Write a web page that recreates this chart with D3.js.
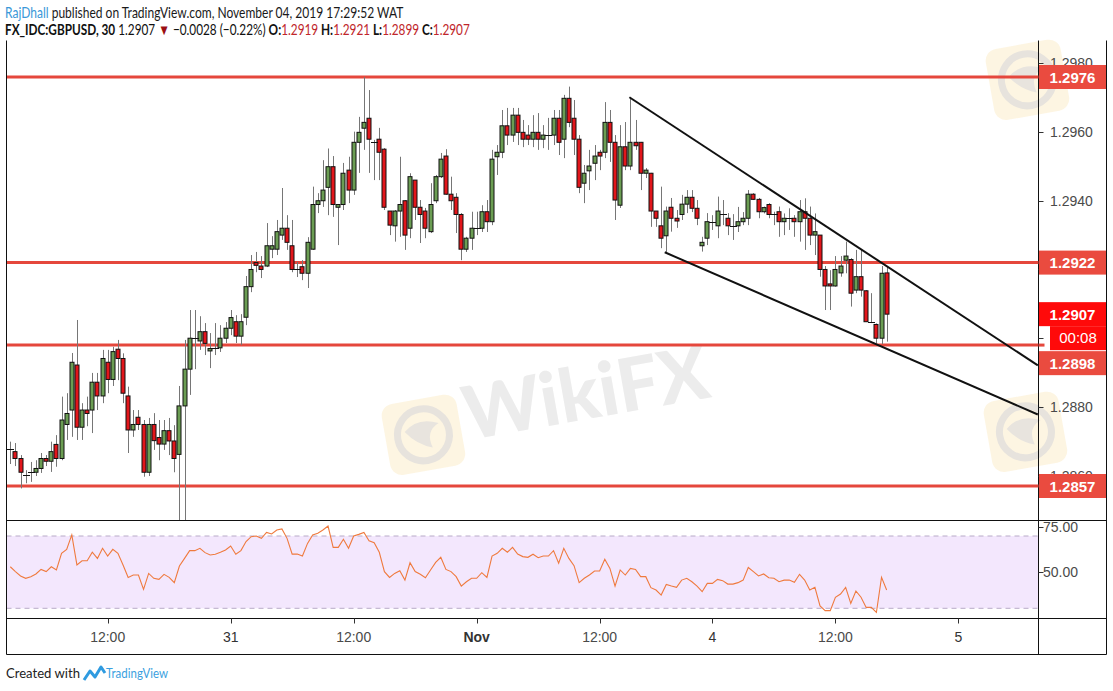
<!DOCTYPE html>
<html><head><meta charset="utf-8">
<script src="https://cdn.jsdelivr.net/npm/d3@7"></script>
<style>body{margin:0;background:#fff;} svg{display:block;}</style>
</head><body><svg id="c" width="1113" height="691"></svg>
<script>
// ---------- DATA ----------
const opens=[1.28679,1.28670,1.28650,1.28602,1.28610,1.28610,1.28621,1.28650,1.28642,1.28691,
1.28650,1.28749,1.28791,1.28922,1.28741,1.28791,1.28791,1.28872,1.28832,1.28930,
1.28880,1.28968,1.28941,1.28832,1.28733,1.28770,1.28749,1.28610,1.28749,1.28711,
1.28692,1.28731,1.28701,1.28662,1.28803,1.28910,1.29000,1.28992,1.29019,1.28963,
1.28972,1.28972,1.29000,1.29029,1.29048,1.29006,1.29061,1.29150,1.29220,1.29210,
1.29210,1.29259,1.29259,1.29300,1.29320,1.29269,1.29200,1.29208,1.29189,1.29259,
1.29389,1.29400,1.29439,1.29499,1.29381,1.29389,1.29489,1.29431,1.29570,1.29611,
1.29640,1.29570,1.29579,1.29550,1.29370,1.29327,1.29370,1.29400,1.29320,1.29460,
1.29381,1.29370,1.29310,1.29400,1.29470,1.29530,1.29419,1.29410,1.29360,1.29259,
1.29291,1.29320,1.29320,1.29368,1.29339,1.29528,1.29541,1.29618,1.29591,1.29649,
1.29599,1.29591,1.29579,1.29599,1.29579,1.29591,1.29591,1.29640,1.29579,1.29698,
1.29640,1.29579,1.29451,1.29487,1.29509,1.29541,1.29541,1.29628,1.29570,1.29387,
1.29557,1.29501,1.29570,1.29570,1.29480,1.29480,1.29370,1.29327,1.29298,1.29381,
1.29349,1.29360,1.29390,1.29410,1.29378,1.29269,1.29291,1.29338,1.29327,1.29360,
1.29349,1.29327,1.29327,1.29339,1.29349,1.29419,1.29404,1.29368,1.29389,1.29360,
1.29368,1.29339,1.29349,1.29349,1.29339,1.29368,1.29349,1.29300,1.29300,1.29200,
1.29158,1.29152,1.29190,1.29227,1.29229,1.29140,1.29179,1.29138,1.29048,1.29040,
1.29000,1.29190];
const highs=[1.28699,1.28695,1.28660,1.28616,1.28640,1.28645,1.28666,1.28660,1.28699,1.28718,
1.28830,1.28840,1.28957,1.29053,1.28811,1.28830,1.28899,1.28899,1.28966,1.28966,
1.28975,1.28995,1.28956,1.28859,1.28791,1.28791,1.28762,1.28768,1.28782,1.28762,
1.28762,1.28768,1.28747,1.28861,1.28995,1.29082,1.29082,1.29064,1.29044,1.29015,
1.29044,1.29038,1.29047,1.29082,1.29067,1.29070,1.29181,1.29242,1.29251,1.29239,
1.29335,1.29297,1.29344,1.29437,1.29358,1.29344,1.29222,1.29227,1.29294,1.29441,
1.29422,1.29518,1.29552,1.29530,1.29390,1.29510,1.29528,1.29601,1.29644,1.29760,
1.29722,1.29577,1.29612,1.29553,1.29370,1.29373,1.29528,1.29402,1.29480,1.29460,
1.29402,1.29379,1.29451,1.29475,1.29539,1.29550,1.29470,1.29422,1.29364,1.29295,
1.29368,1.29368,1.29387,1.29402,1.29548,1.29562,1.29664,1.29670,1.29670,1.29670,
1.29635,1.29620,1.29649,1.29655,1.29620,1.29641,1.29664,1.29664,1.29708,1.29732,
1.29693,1.29591,1.29504,1.29548,1.29562,1.29548,1.29687,1.29664,1.29591,1.29620,
1.29629,1.29701,1.29635,1.29571,1.29495,1.29481,1.29370,1.29441,1.29383,1.29408,
1.29373,1.29417,1.29431,1.29431,1.29402,1.29295,1.29364,1.29358,1.29412,1.29402,
1.29364,1.29361,1.29382,1.29367,1.29431,1.29422,1.29408,1.29383,1.29393,1.29368,
1.29383,1.29363,1.29378,1.29358,1.29402,1.29407,1.29383,1.29363,1.29300,1.29210,
1.29198,1.29239,1.29239,1.29281,1.29233,1.29257,1.29259,1.29140,1.29131,1.29043,
1.29210,1.29210];
const lows=[1.28634,1.28628,1.28563,1.28578,1.28582,1.28599,1.28608,1.28628,1.28611,1.28626,
1.28645,1.28704,1.28713,1.28704,1.28704,1.28744,1.28724,1.28791,1.28811,1.28840,
1.28861,1.28878,1.28811,1.28666,1.28713,1.28733,1.28597,1.28599,1.28675,1.28645,
1.28675,1.28660,1.28610,1.28456,1.28456,1.28835,1.28910,1.28966,1.28951,1.28913,
1.28951,1.28960,1.28986,1.29009,1.28986,1.28980,1.29038,1.29134,1.29192,1.29175,
1.29207,1.29233,1.29242,1.29286,1.29257,1.29192,1.29178,1.29169,1.29146,1.29257,
1.29364,1.29382,1.29358,1.29353,1.29271,1.29373,1.29393,1.29417,1.29481,1.29548,
1.29481,1.29460,1.29460,1.29373,1.29300,1.29281,1.29295,1.29257,1.29291,1.29344,
1.29277,1.29291,1.29306,1.29393,1.29466,1.29417,1.29373,1.29306,1.29227,1.29251,
1.29257,1.29300,1.29309,1.29309,1.29329,1.29475,1.29524,1.29562,1.29571,1.29562,
1.29556,1.29562,1.29556,1.29548,1.29553,1.29548,1.29562,1.29533,1.29524,1.29614,
1.29533,1.29422,1.29393,1.29431,1.29460,1.29489,1.29524,1.29513,1.29344,1.29379,
1.29489,1.29489,1.29548,1.29431,1.29466,1.29324,1.29324,1.29262,1.29251,1.29310,
1.29321,1.29344,1.29364,1.29367,1.29329,1.29252,1.29271,1.29315,1.29291,1.29329,
1.29300,1.29286,1.29309,1.29329,1.29329,1.29402,1.29349,1.29363,1.29349,1.29329,
1.29295,1.29300,1.29315,1.29295,1.29281,1.29257,1.29271,1.29242,1.29179,1.29082,
1.29082,1.29150,1.29179,1.29189,1.29092,1.29131,1.29121,1.29048,1.29044,1.28985,
1.28983,1.28990];
const closes=[1.28679,1.28650,1.28610,1.28602,1.28610,1.28621,1.28650,1.28642,1.28670,1.28650,
1.28762,1.28781,1.28930,1.28741,1.28791,1.28781,1.28872,1.28832,1.28941,1.28880,
1.28961,1.28941,1.28840,1.28733,1.28749,1.28749,1.28610,1.28749,1.28702,1.28692,
1.28731,1.28701,1.28650,1.28803,1.28910,1.29000,1.29000,1.29019,1.28985,1.28970,
1.28972,1.29000,1.29029,1.29060,1.29006,1.29048,1.29150,1.29200,1.29212,1.29200,
1.29269,1.29269,1.29310,1.29320,1.29279,1.29200,1.29200,1.29189,1.29279,1.29389,
1.29400,1.29431,1.29499,1.29389,1.29389,1.29480,1.29431,1.29570,1.29599,1.29628,
1.29579,1.29570,1.29541,1.29381,1.29329,1.29370,1.29389,1.29300,1.29470,1.29381,
1.29360,1.29320,1.29389,1.29470,1.29521,1.29419,1.29400,1.29360,1.29259,1.29291,
1.29320,1.29320,1.29368,1.29339,1.29521,1.29541,1.29618,1.29591,1.29649,1.29599,
1.29579,1.29579,1.29599,1.29579,1.29591,1.29591,1.29640,1.29570,1.29698,1.29628,
1.29579,1.29439,1.29480,1.29501,1.29530,1.29530,1.29628,1.29570,1.29402,1.29557,
1.29501,1.29570,1.29560,1.29480,1.29489,1.29370,1.29349,1.29291,1.29370,1.29349,
1.29341,1.29390,1.29410,1.29378,1.29349,1.29279,1.29339,1.29338,1.29370,1.29360,
1.29327,1.29327,1.29339,1.29349,1.29419,1.29404,1.29368,1.29380,1.29360,1.29360,
1.29339,1.29349,1.29349,1.29339,1.29368,1.29349,1.29300,1.29310,1.29200,1.29152,
1.29152,1.29200,1.29210,1.29239,1.29131,1.29179,1.29140,1.29048,1.29048,1.29000,
1.29189,1.29070];
const rsiValues=[53.0,50.3,47.9,46.6,47.5,49.0,51.5,50.3,53.0,51.2,
60.4,62.6,70.6,54.0,56.3,56.3,61.0,57.6,63.2,58.9,
62.6,60.4,54.0,47.1,48.4,48.4,40.5,49.3,46.6,46.0,
48.8,47.1,44.2,53.4,57.6,61.9,61.9,63.2,60.8,59.5,
59.9,61.0,62.3,64.5,59.9,61.9,66.9,69.6,70.0,68.7,
72.0,71.1,73.3,73.9,68.7,60.0,60.0,58.9,65.9,70.6,
71.5,73.3,75.5,63.7,63.7,68.2,63.2,70.0,70.9,72.0,
67.4,66.3,61.0,50.3,47.1,49.3,50.8,45.6,55.2,50.3,
48.8,46.9,51.2,55.4,58.2,51.5,50.3,47.5,42.3,44.7,
46.6,46.6,49.7,47.1,58.9,60.4,63.2,61.0,63.7,60.0,
58.6,58.2,59.9,58.0,58.9,58.9,61.9,54.9,63.2,57.6,
53.6,44.2,46.6,48.4,50.6,50.6,57.1,52.1,42.3,51.2,
48.4,52.1,51.5,47.5,47.5,41.4,40.1,37.3,43.2,42.3,
41.6,45.6,46.6,44.7,42.3,39.2,43.8,43.8,46.0,45.3,
43.4,43.4,44.2,45.6,52.6,50.3,47.9,49.0,46.9,46.6,
44.7,45.6,45.6,44.4,48.8,45.6,40.1,41.6,31.3,28.7,
28.7,36.1,37.9,41.6,32.7,39.6,36.1,30.5,30.5,27.7,
47.1,40.1];
const timeTickIdx=[19,43,67,91,115,137,161,185];
const timeTickLabels=["12:00","31","12:00","Nov","12:00","4","12:00","5"];
const priceTicks=[1.2980,1.2960,1.2940,1.2920,1.2900,1.2880,1.2860];
const priceTickLabelShown=[true,true,true,false,false,true,true];
const levelValues=[1.2976,1.2922,1.2898,1.2857];
const levelLabels=["1.2976","1.2922","1.2898","1.2857"];
const lastPrice=1.2907, lastPriceLabel="1.2907", countdownLabel="00:08";
const rsiTicks=[75,50];
const rsiBands=[70,30];
const upperTrend=[[120.8,1.29701],[200.5,1.28921]];
const lowerTrend=[[127.7,1.29250],[200.5,1.28778]];

// ---------- LAYOUT ----------
const L=6.5, R=1038.5, RR=1106.5, TOP=40.5, MAINB=520.5, RSIB=618.5, AXB=654.5;
const svg=d3.select("#c");
const FONT='"Liberation Sans","Open Sans",sans-serif';

const x=d3.scaleLinear().domain([0,185]).range([10.3,958.4]);
const y=d3.scaleLinear().domain([1.2857,1.2976]).range([486,77]);
const yr=d3.scaleLinear().domain([30,70]).range([608.3,536]);

const defs=svg.append("defs");
defs.append("clipPath").attr("id","mainClip").append("rect").attr("x",L).attr("y",TOP).attr("width",R-L).attr("height",MAINB-TOP);
defs.append("clipPath").attr("id","rsiClip").append("rect").attr("x",L).attr("y",MAINB).attr("width",R-L).attr("height",RSIB-MAINB);
defs.append("clipPath").attr("id","allClip").append("rect").attr("x",0).attr("y",0).attr("width",1113).attr("height",691);

// ---------- WATERMARKS ----------
const wm=svg.append("g").attr("clip-path","url(#allClip)");
function watermark(cx,cy,withText,withLogo,op){
  const g=wm.append("g").attr("transform",`translate(${cx},${cy}) rotate(-10)`).attr("opacity",op||1);
  if(withLogo){
    g.append("rect").attr("x",-205).attr("y",-25).attr("width",76).attr("height",72).attr("rx",12)
      .attr("fill","#fcf2d8").attr("opacity",0.75);
    g.append("circle").attr("cx",-167).attr("cy",11).attr("r",26).attr("fill","none")
      .attr("stroke","#e7e3dd").attr("stroke-width",7);
    g.append("path").attr("d","M-185,5 Q-170,-8 -150,2 Q-165,8 -160,25 Q-175,20 -185,5Z").attr("fill","#e8e4de");
  }
  if(withText){
    g.append("text").attr("x",0).attr("y",24).attr("text-anchor","middle")
      .attr("font-family","Lato,sans-serif").attr("font-weight","900").attr("font-size",74)
      .attr("fill","#ececec").text("WikiFX");
  }
}
watermark(586,395,true,true);
watermark(1190,40,false,true);
watermark(1188,392,false,true);

// ---------- MAIN PANE ----------
const main=svg.append("g").attr("clip-path","url(#mainClip)");

main.selectAll("line.lvl").data(levelValues).join("line")
  .attr("x1",L).attr("x2",R).attr("y1",d=>y(d)).attr("y2",d=>y(d))
  .attr("stroke","#e5473c").attr("stroke-width",3);

const idx=d3.range(opens.length);
const cg=main.append("g");
cg.selectAll("line.wick").data(idx).join("line")
  .attr("x1",i=>Math.round(x(i))+0.5).attr("x2",i=>Math.round(x(i))+0.5)
  .attr("y1",i=>y(highs[i])).attr("y2",i=>y(lows[i]))
  .attr("stroke","#767676").attr("stroke-width",1);
const isDoji=i=>Math.abs(opens[i]-closes[i])<0.00003;
cg.selectAll("rect.body").data(idx.filter(i=>!isDoji(i))).join("rect")
  .attr("x",i=>Math.round(x(i))-2)
  .attr("y",i=>y(Math.max(opens[i],closes[i])))
  .attr("width",4)
  .attr("height",i=>Math.max(1,y(Math.min(opens[i],closes[i]))-y(Math.max(opens[i],closes[i]))))
  .attr("fill",i=>closes[i]>opens[i]?"#6b9d53":"#e2161b")
  .attr("stroke","#111").attr("stroke-width",1);
cg.selectAll("line.doji").data(idx.filter(isDoji)).join("line")
  .attr("x1",i=>Math.round(x(i))-3).attr("x2",i=>Math.round(x(i))+4)
  .attr("y1",i=>Math.round(y(closes[i]))+0.5).attr("y2",i=>Math.round(y(closes[i]))+0.5)
  .attr("stroke","#111").attr("stroke-width",1);

const tl=d3.line().x(d=>x(d[0])).y(d=>y(d[1]));
[upperTrend,lowerTrend].forEach(t=>{
  main.append("path").attr("d",tl(t)).attr("fill","none").attr("stroke","#111").attr("stroke-width",2);
});

// ---------- RSI PANE ----------
const rg=svg.append("g").attr("clip-path","url(#rsiClip)");
rg.append("rect").attr("x",L).attr("y",yr(70)).attr("width",R-L).attr("height",yr(30)-yr(70)).attr("fill","#f3e7fd");
rg.selectAll("line.band").data(rsiBands).join("line")
  .attr("x1",L).attr("x2",R).attr("y1",d=>yr(d)).attr("y2",d=>yr(d))
  .attr("stroke","#b8abc8").attr("stroke-width",1).attr("stroke-dasharray","5,4");
rg.append("path").datum(rsiValues)
  .attr("d",d3.line().x((d,i)=>x(i)).y(d=>yr(d)))
  .attr("fill","none").attr("stroke","#ef7a3e").attr("stroke-width",1.1);

// ---------- FRAME ----------
const fr=svg.append("g").attr("stroke","#111").attr("stroke-width",1);
fr.append("line").attr("x1",L).attr("x2",L).attr("y1",TOP).attr("y2",AXB);
fr.append("line").attr("x1",R).attr("x2",R).attr("y1",TOP).attr("y2",AXB);
fr.append("line").attr("x1",L).attr("x2",RR).attr("y1",AXB).attr("y2",AXB);
fr.append("line").attr("x1",L).attr("x2",RR).attr("y1",MAINB).attr("y2",MAINB);
fr.append("line").attr("x1",L).attr("x2",RR).attr("y1",RSIB).attr("y2",RSIB);
fr.append("line").attr("x1",RR).attr("x2",RR).attr("y1",TOP).attr("y2",AXB);

// ---------- PRICE AXIS ----------
const pa=svg.append("g");
pa.selectAll("line.pt").data(priceTicks).join("line")
  .attr("x1",R).attr("x2",R+5).attr("y1",d=>Math.round(y(d))+0.5).attr("y2",d=>Math.round(y(d))+0.5)
  .attr("stroke","#333");
pa.selectAll("text.pt").data(priceTicks.filter((d,k)=>priceTickLabelShown[k])).join("text")
  .attr("x",1050).attr("y",d=>y(d)+5).attr("font-family",FONT).attr("font-size",14)
  .attr("fill","#4a4a4a").text(d=>d.toFixed(4));
pa.selectAll("line.rt").data(rsiTicks).join("line")
  .attr("x1",R).attr("x2",R+5).attr("y1",d=>Math.round(yr(d))+0.5).attr("y2",d=>Math.round(yr(d))+0.5)
  .attr("stroke","#333");
pa.selectAll("text.rt").data(rsiTicks).join("text")
  .attr("x",1043).attr("y",d=>yr(d)+5).attr("font-family",FONT).attr("font-size",14)
  .attr("fill","#4a4a4a").text(d=>d.toFixed(2));

const boxH=24;
const curY=y(lastPrice);
const cdTop=curY-boxH/2+boxH;
levelValues.forEach((v,k)=>{
  let cy=y(v);
  if(cy>curY-boxH && cy<cdTop+boxH+boxH/2) cy=Math.max(cy,cdTop+boxH+boxH/2+1);
  pa.append("line").attr("x1",R).attr("x2",R+6).attr("y1",y(v)).attr("y2",y(v)).attr("stroke","#e5473c").attr("stroke-width",3);
  pa.append("rect").attr("x",1039).attr("y",cy-boxH/2).attr("width",67).attr("height",boxH).attr("fill","#ea4b3f");
  pa.append("text").attr("x",1072.5).attr("y",cy+5.5).attr("text-anchor","middle")
    .attr("font-family",FONT).attr("font-size",15).attr("font-weight","bold").attr("fill","#fff").text(levelLabels[k]);
});
pa.append("rect").attr("x",1039).attr("y",curY-boxH/2).attr("width",67).attr("height",boxH).attr("fill","#ff0a0a");
pa.append("text").attr("x",1072.5).attr("y",curY+5.5).attr("text-anchor","middle")
  .attr("font-family",FONT).attr("font-size",15).attr("font-weight","bold").attr("fill","#fff").text(lastPriceLabel);
pa.append("rect").attr("x",1050).attr("y",cdTop).attr("width",56).attr("height",boxH).attr("fill","#ff0a0a");
pa.append("text").attr("x",1078).attr("y",cdTop+17).attr("text-anchor","middle")
  .attr("font-family",FONT).attr("font-size",15).attr("fill","#fff").text(countdownLabel);

// ---------- TIME AXIS ----------
const ta=svg.append("g");
ta.selectAll("line").data(timeTickIdx).join("line")
  .attr("x1",i=>Math.round(x(i))+0.5).attr("x2",i=>Math.round(x(i))+0.5)
  .attr("y1",RSIB).attr("y2",RSIB+5).attr("stroke","#333");
ta.selectAll("text").data(timeTickIdx).join("text")
  .attr("x",i=>x(i)).attr("y",642).attr("text-anchor","middle")
  .attr("font-family",FONT).attr("font-size",14)
  .attr("fill",(d,k)=>timeTickLabels[k].includes(":")?"#4a4a4a":"#333")
  .attr("font-weight",(d,k)=>timeTickLabels[k]==="Nov"?"bold":"normal")
  .text((d,k)=>timeTickLabels[k]);

// ---------- HEADER ----------
function fitText(parts,tx,ty,targetW,size){
  const g=svg.append("g");
  const t=g.append("text").attr("x",0).attr("y",0).attr("font-family","Lato,sans-serif").attr("font-size",size);
  parts.forEach(p=>t.append("tspan").attr("fill",p.c||"#111").attr("font-weight",p.b?"bold":"normal").text(p.t));
  const w=t.node().getComputedTextLength();
  g.attr("transform",`translate(${tx},${ty}) scale(${targetW/w},1)`);
}
fitText([{t:"RajDhall",c:"#3a98d8"},{t:" published on TradingView.com, November 04, 2019 17:29:52 WAT",c:"#1a1a1a"}],5,17.5,399,15);
fitText([{t:"FX_IDC:GBPUSD, 30",b:1},{t:" 1.2907 "},{t:"▼",c:"#9b0f12"},{t:" −0.0028 (−0.22%) "},
  {t:"O:",b:1},{t:"1.2919",c:"#c0262b"},{t:" H:",b:1},{t:"1.2921",c:"#c0262b"},
  {t:" L:",b:1},{t:"1.2899",c:"#c0262b"},{t:" C:",b:1},{t:"1.2907",c:"#c0262b"}],5,34.5,465,15);

// ---------- FOOTER ----------
fitText([{t:"Created with",c:"#222"}],6,678,74,14);
const lg=svg.append("g").attr("transform","translate(84,664)");
lg.append("path").attr("d","M0,16 L6,7 L11,13 L17,3 L21,9").attr("fill","none").attr("stroke","#2f9be0").attr("stroke-width",3).attr("stroke-linejoin","round");
fitText([{t:"TradingView",c:"#3b9fe0"}],106,678,62,14);
</script></body></html>
